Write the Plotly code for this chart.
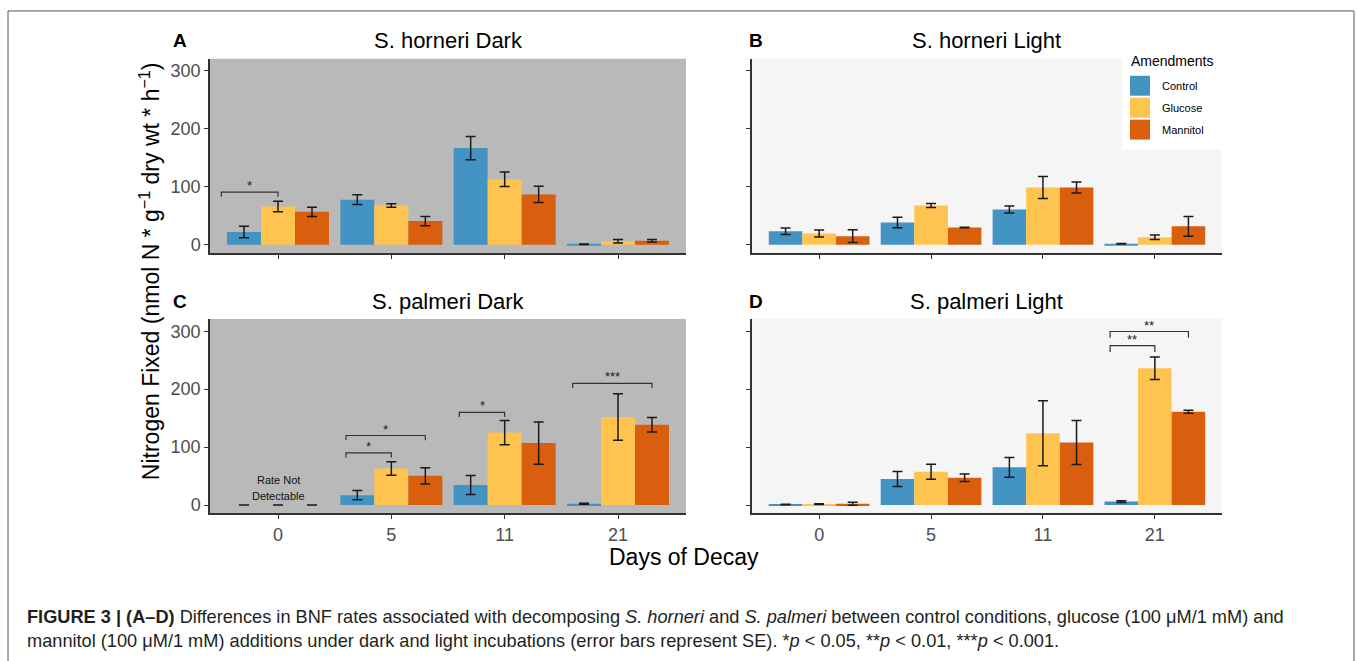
import plotly.graph_objects as go

# ---------------- data ----------------
days = ["0", "5", "11", "21"]
amendments = ["Control", "Glucose", "Mannitol"]
colors = ["#4393C3", "#FEC44F", "#D95F0E"]

panel_titles = ["S. horneri Dark", "S. horneri Light", "S. palmeri Dark", "S. palmeri Light"]
panel_letters = ["A", "B", "C", "D"]

# A: S. horneri Dark
hd_control = [22, 78, 167, 1]
hd_control_se = [10, 8.5, 20, 0.5]
hd_glucose = [66, 68, 113, 6]
hd_glucose_se = [9, 3, 12.5, 3]
hd_mannitol = [57, 41, 87, 7]
hd_mannitol_se = [8, 8, 14, 2]

# B: S. horneri Light
hl_control = [23.5, 38.5, 61, 2]
hl_control_se = [5.5, 9, 6, 0.5]
hl_glucose = [19.5, 68, 99, 13]
hl_glucose_se = [6, 3.5, 19, 4]
hl_mannitol = [15, 30, 99, 32]
hl_mannitol_se = [11, 0.5, 9.5, 17]

# C: S. palmeri Dark
pd_control = [0, 17, 34.5, 2.3]
pd_control_se = [0, 8, 16.5, 1]
pd_glucose = [0, 63, 125, 152]
pd_glucose_se = [0, 11.5, 21, 40]
pd_mannitol = [0, 50.5, 107, 138.5]
pd_mannitol_se = [0, 14, 36.5, 12.5]

# D: S. palmeri Light
pl_control = [1, 45, 65, 6]
pl_control_se = [0.5, 13, 17, 1.5]
pl_glucose = [1.5, 57.5, 124, 236]
pl_glucose_se = [0.7, 13, 56, 19.5]
pl_mannitol = [2.3, 47, 108, 161]
pl_mannitol_se = [2.5, 6.5, 38, 2.5]

panel_values = [
    [(hd_control, hd_control_se), (hd_glucose, hd_glucose_se), (hd_mannitol, hd_mannitol_se)],
    [(hl_control, hl_control_se), (hl_glucose, hl_glucose_se), (hl_mannitol, hl_mannitol_se)],
    [(pd_control, pd_control_se), (pd_glucose, pd_glucose_se), (pd_mannitol, pd_mannitol_se)],
    [(pl_control, pl_control_se), (pl_glucose, pl_glucose_se), (pl_mannitol, pl_mannitol_se)],
]

# significance brackets (panel index, from x, to x, height, tip, label)
sig_panel = [0, 2, 2, 2, 2, 3, 3]
sig_x0 = [-0.5, 0.6, 0.6, 1.6, 2.6, 2.6, 2.6]
sig_x1 = [0.0, 1.0, 1.3, 2.0, 3.3, 3.0, 3.3]
sig_y = [91, 90, 120, 160, 210, 275, 299.5]
sig_tip = [8, 8, 8, 8, 8, 11, 11]
sig_label = ["*", "*", "*", "*", "***", "**", "**"]

y_ticks = [0, 100, 200, 300]

# ---------------- layout geometry ----------------
W, H = 1357, 661


def fx(p):
    return p / W


def fy(p):
    return 1 - p / H


# panel boxes in pixels: left, right, top, bottom
boxes = [
    (210, 686, 59, 254),
    (752, 1222, 59, 254),
    (210, 686, 320, 515),
    (752, 1222, 320, 515),
]
panel_bg = ["#B9B9B9", "#F5F5F5", "#B9B9B9", "#F5F5F5"]

FONT = "Liberation Sans, Arial, Helvetica, sans-serif"

fig = go.Figure()
layout = dict(
    width=W, height=H, autosize=False,
    margin=dict(l=0, r=0, t=0, b=0),
    paper_bgcolor="white", plot_bgcolor="rgba(0,0,0,0)",
    barmode="group", bargap=0.1, bargroupgap=0.0,
    showlegend=False,
    font=dict(family=FONT, color="#000"),
)
shapes = []
annotations = []

for i in range(4):
    s = "" if i == 0 else str(i + 1)
    l, r, t, b = boxes[i]
    left_col = i in (0, 2)
    bottom_row = i in (2, 3)
    layout["xaxis" + s] = dict(
        domain=[fx(l), fx(r)], anchor="y" + s, range=[-0.6, 3.6],
        tickvals=list(range(len(days))), ticktext=days,
        showticklabels=bottom_row,
        showline=True, linecolor="#333333", linewidth=1.5,
        ticks="outside", ticklen=4, tickwidth=1.2, tickcolor="#333333",
        tickfont=dict(size=18, color="#4D4D4D", family=FONT),
        showgrid=False, zeroline=False, fixedrange=True,
    )
    layout["yaxis" + s] = dict(
        domain=[fy(b), fy(t)], anchor="x" + s, range=[-14.5, 321],
        tickvals=y_ticks, showticklabels=left_col,
        showline=True, linecolor="#333333", linewidth=1.5,
        ticks="outside", ticklen=4, tickwidth=1.2, tickcolor="#333333",
        tickfont=dict(size=18, color="#4D4D4D", family=FONT),
        showgrid=False, zeroline=False, fixedrange=True,
    )
    shapes.append(dict(type="rect", xref="x" + s + " domain", yref="y" + s + " domain",
                       x0=0, x1=1, y0=0, y1=1, fillcolor=panel_bg[i],
                       line=dict(width=0), layer="below"))
    for j, name in enumerate(amendments):
        vals, se = panel_values[i][j]
        fig.add_trace(go.Bar(
            x=list(range(len(days))), y=vals, name=name,
            marker=dict(color=colors[j], line=dict(width=0)),
            error_y=dict(type="data", array=se, visible=True, color="#1A1A1A",
                         thickness=1.5, width=5),
            xaxis="x" + s, yaxis="y" + s, showlegend=False,
        ))
    # panel title and letter
    annotations.append(dict(text=panel_titles[i], xref="paper", yref="paper",
                            x=fx((l + r) / 2), y=fy(41 if i < 2 else 302),
                            xanchor="center", yanchor="middle", showarrow=False,
                            font=dict(size=22, color="#000", family=FONT)))
    annotations.append(dict(text="<b>" + panel_letters[i] + "</b>", xref="paper", yref="paper",
                            x=fx(180 if left_col else 756), y=fy(41 if i < 2 else 302),
                            xanchor="center", yanchor="middle", showarrow=False,
                            font=dict(size=19, color="#000", family=FONT)))

# significance brackets
for k in range(len(sig_panel)):
    i = sig_panel[k]
    s = "" if i == 0 else str(i + 1)
    x0, x1, y, tip = sig_x0[k], sig_x1[k], sig_y[k], sig_tip[k]
    shapes.append(dict(type="path", xref="x" + s, yref="y" + s,
                       path=f"M {x0},{y - tip} L {x0},{y} L {x1},{y} L {x1},{y - tip}",
                       line=dict(color="#333333", width=1.2)))
    annotations.append(dict(text=sig_label[k], xref="x" + s, yref="y" + s,
                            x=(x0 + x1) / 2, y=y + 11, xanchor="center", yanchor="middle",
                            showarrow=False, font=dict(size=13, color="#222", family=FONT)))

# "Rate Not Detectable" note on panel C, day 0
annotations.append(dict(text="Rate Not", xref="x3", yref="y3", x=0, y=42.5, showarrow=False,
                        xanchor="center", yanchor="middle",
                        font=dict(size=11, color="#111", family=FONT)))
annotations.append(dict(text="Detectable", xref="x3", yref="y3", x=0, y=15.5, showarrow=False,
                        xanchor="center", yanchor="middle",
                        font=dict(size=11, color="#111", family=FONT)))

# legend (inside panel B)
shapes.append(dict(type="rect", xref="paper", yref="paper", x0=fx(1122), x1=fx(1222),
                   y0=fy(150), y1=fy(59), fillcolor="white", line=dict(width=0), layer="above"))
annotations.append(dict(text="Amendments", xref="paper", yref="paper", x=fx(1129), y=fy(61),
                        xanchor="left", yanchor="middle", showarrow=False,
                        font=dict(size=14, color="#000", family=FONT)))
for j, name in enumerate(amendments):
    top = 76 + 22 * j
    shapes.append(dict(type="rect", xref="paper", yref="paper", x0=fx(1130), x1=fx(1150),
                       y0=fy(top + 20), y1=fy(top), fillcolor=colors[j],
                       line=dict(width=0), layer="above"))
    annotations.append(dict(text=name, xref="paper", yref="paper", x=fx(1160), y=fy(top + 10),
                            xanchor="left", yanchor="middle", showarrow=False,
                            font=dict(size=11, color="#000", family=FONT)))

# shared axis titles
annotations.append(dict(text="Days of Decay", xref="paper", yref="paper", x=fx(684), y=fy(559),
                        xanchor="center", yanchor="middle", showarrow=False,
                        font=dict(size=23, color="#000", family=FONT)))
annotations.append(dict(text="Nitrogen Fixed (nmol N * g<sup>\u22121</sup> dry wt * h<sup>\u22121</sup>)",
                        xref="paper", yref="paper", x=fx(150), y=fy(272), textangle=-90,
                        xanchor="center", yanchor="middle", showarrow=False,
                        font=dict(size=23, color="#000", family=FONT)))

# caption
annotations.append(dict(
    text="<b>FIGURE 3 | (A\u2013D)</b> Differences in BNF rates associated with decomposing "
         "<i>S. horneri</i> and <i>S. palmeri</i> between control conditions, glucose (100 \u03bcM/1 mM) and",
    xref="paper", yref="paper", x=fx(25), y=fy(619), xanchor="left", yanchor="middle",
    showarrow=False, font=dict(size=18.2, color="#231F20", family=FONT)))
annotations.append(dict(
    text="mannitol (100 \u03bcM/1 mM) additions under dark and light incubations (error bars represent SE). "
         "*<i>p</i> &lt; 0.05, **<i>p</i> &lt; 0.01, ***<i>p</i> &lt; 0.001.",
    xref="paper", yref="paper", x=fx(25), y=fy(643), xanchor="left", yanchor="middle",
    showarrow=False, font=dict(size=18.2, color="#231F20", family=FONT)))

# outer frame
shapes.append(dict(type="rect", xref="paper", yref="paper", x0=fx(8), x1=fx(1354),
                   y0=fy(700), y1=fy(11), line=dict(color="#555555", width=1),
                   fillcolor="rgba(0,0,0,0)", layer="above"))

layout["shapes"] = shapes
layout["annotations"] = annotations
fig.update_layout(**layout)

fig.write_html("out.html", config={"displayModeBar": False},
               post_script="document.body.style.margin='0';")
